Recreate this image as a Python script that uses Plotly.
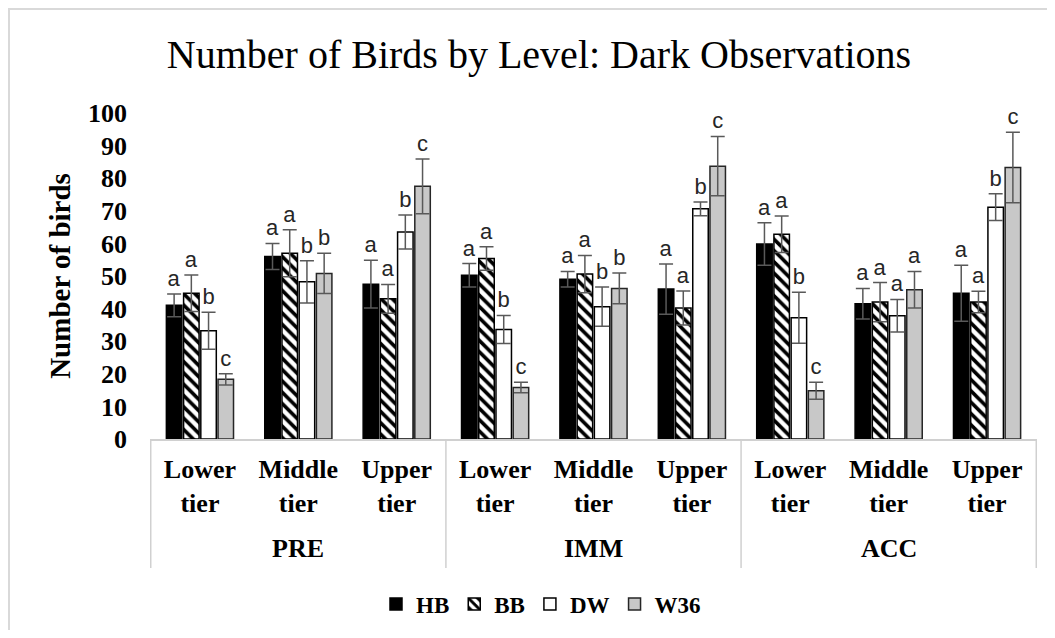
import plotly.graph_objects as go

# ---------------- data ----------------
phases = ["PRE", "IMM", "ACC"]
tiers = ["Lower<br>tier", "Middle<br>tier", "Upper<br>tier"]
series_names = ["HB", "BB", "DW", "W36"]

hb_vals = [41.0, 56.0, 47.5, 50.2, 49.0, 46.0, 59.8, 41.5, 44.7]
bb_vals = [44.7, 57.0, 43.0, 55.4, 50.6, 40.2, 62.8, 42.0, 42.0]
dw_vals = [33.2, 48.2, 63.5, 33.6, 40.6, 70.6, 37.2, 37.8, 71.1]
w36_vals = [18.3, 50.8, 77.5, 15.8, 46.2, 83.7, 14.8, 45.8, 83.3]

hb_err = [3.5, 4.0, 7.3, 3.6, 2.4, 7.7, 6.5, 4.7, 8.6]
bb_err = [5.6, 7.2, 4.4, 3.6, 5.7, 5.2, 5.6, 6.0, 3.3]
dw_err = [5.7, 6.5, 5.2, 4.3, 6.0, 2.1, 7.8, 5.0, 4.1]
w36_err = [1.7, 6.2, 8.4, 1.6, 4.7, 9.1, 2.6, 5.6, 10.8]

hb_letters = ["a", "a", "a", "a", "a", "a", "a", "a", "a"]
bb_letters = ["a", "a", "a", "a", "a", "a", "a", "a", "a"]
dw_letters = ["b", "b", "b", "b", "b", "b", "b", "a", "b"]
w36_letters = ["c", "b", "c", "c", "b", "c", "c", "a", "c"]

# ---------------- build ----------------
keys = [f"{p}|{t}" for p in phases for t in tiers]          # unique categories
tick_text = [t for p in phases for t in tiers]              # shown tier labels

SERIF = "Liberation Serif, Times New Roman, serif"
SANS = "Liberation Sans, Arial, sans-serif"

styles = {
    "HB": dict(color="black", line=dict(color="black", width=1.5)),
    "BB": dict(color="white", line=dict(color="black", width=1.5),
               pattern=dict(shape="\\", fgcolor="black", bgcolor="white",
                            size=8, solidity=0.45, fillmode="replace")),
    "DW": dict(color="white", line=dict(color="black", width=1.5)),
    "W36": dict(color="#c8c8c8", line=dict(color="#262626", width=1.5)),
}

data = {
    "HB": (hb_vals, hb_err, hb_letters),
    "BB": (bb_vals, bb_err, bb_letters),
    "DW": (dw_vals, dw_err, dw_letters),
    "W36": (w36_vals, w36_err, w36_letters),
}

fig = go.Figure()
for name in series_names:
    vals, errs, lets = data[name]
    fig.add_trace(go.Bar(
        x=keys, y=vals, name=name, offsetgroup=name,
        marker=styles[name],
        error_y=dict(type="data", array=errs, visible=True,
                     color="#595959", thickness=1.5, width=7),
        hoverinfo="y",
    ))
# significance letters sit just above each error bar
for name in series_names:
    vals, errs, lets = data[name]
    fig.add_trace(go.Bar(
        x=keys, y=[0.0001] * len(vals), base=[v + e for v, e in zip(vals, errs)],
        offsetgroup=name, showlegend=False, hoverinfo="skip",
        marker=dict(color="rgba(0,0,0,0)", line=dict(width=0)),
        text=lets, textposition="outside", textangle=0,
        constraintext="none", cliponaxis=False,
        textfont=dict(family=SANS, size=22, color="#262626"),
    ))

W, H = 1039, 622
L, R, T, B = 142, 10, 105, 191
PW, PH = W - L - R, H - T - B

fig.update_layout(
    width=W, height=H, autosize=False,
    margin=dict(l=L, r=R, t=T, b=B),
    paper_bgcolor="white", plot_bgcolor="white",
    barmode="group", bargap=0.3, bargroupgap=0.1,
    title=dict(text="Number of Birds by Level: Dark Observations",
               x=531 / W, xref="container", xanchor="center",
               y=1 - 46 / H, yref="container", yanchor="middle",
               font=dict(family=SERIF, size=40, color="black")),
    legend=dict(orientation="h", x=533 / W, xref="container", xanchor="center",
                y=1 - 596 / H, yref="container", yanchor="middle",
                font=dict(family=SERIF, size=23, color="black", weight=700),
                itemclick=False, traceorder="normal"),
    showlegend=True,
)

fig.update_yaxes(
    range=[0, 100], dtick=10, showgrid=False, zeroline=False, showline=False,
    ticks="", ticklabelstandoff=22,
    tickfont=dict(family=SERIF, size=26, color="black", weight=700),
    title=dict(text="Number of birds", standoff=8,
               font=dict(family=SERIF, size=29, color="black", weight=700)),
)
fig.update_xaxes(
    type="category", categoryorder="array", categoryarray=keys,
    tickmode="array", tickvals=keys, ticktext=tick_text,
    showgrid=False, showline=True, linecolor="#d0d0d0", linewidth=1.5,
    ticks="", ticklabelstandoff=6,
    tickfont=dict(family=SERIF, size=26, color="black", weight=700),
)

# phase labels (second category level) and the dividers of the label table
box_bottom = -(568 - 439) / PH
for i, p in enumerate(phases):
    first, mid, last = keys[3 * i], keys[3 * i + 1], keys[3 * i + 2]
    fig.add_annotation(x=mid, xref="x", y=-(548 - 439) / PH, yref="paper",
                       text=p, showarrow=False, yanchor="middle",
                       font=dict(family=SERIF, size=26, color="black", weight=700))
    fig.add_shape(type="line", xref="x", yref="paper",
                  x0=first, x1=first, x0shift=-0.5, x1shift=-0.5,
                  y0=0, y1=box_bottom, line=dict(color="#d0d0d0", width=1.5))
fig.add_shape(type="line", xref="x", yref="paper",
              x0=keys[-1], x1=keys[-1], x0shift=0.5, x1shift=0.5,
              y0=0, y1=box_bottom, line=dict(color="#d0d0d0", width=1.5))

# outer chart-area frame (left and top edges visible)
fig.add_shape(type="rect", xref="paper", yref="paper",
              x0=(1 - L) / PW, x1=(W + 20 - L) / PW,
              y0=-(H + 20 - (T + PH)) / PH, y1=(T + PH - 1) / PH,
              line=dict(color="#d9d9d9", width=2), fillcolor="rgba(0,0,0,0)",
              layer="below")

fig.write_html("out.html")
